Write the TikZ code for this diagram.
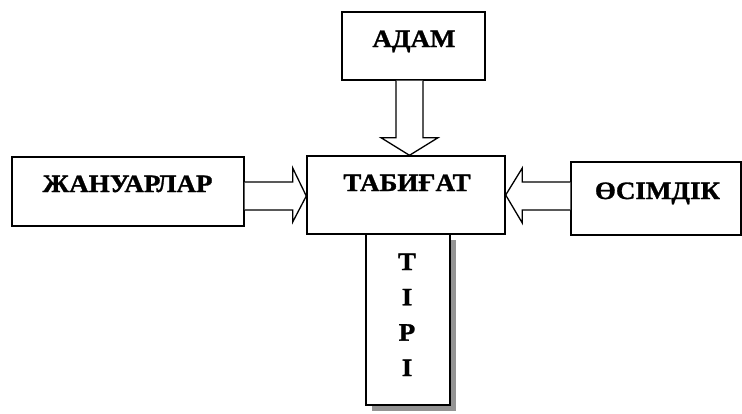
\documentclass[tikz,border=0pt]{standalone}
\usepackage{fontspec}
\setmainfont{Liberation Serif}
\newfontfamily\lblfont[FakeStretch=1.08,FakeBold=1.2]{Liberation Serif Bold}
\usetikzlibrary{calc}
\begin{document}
\begin{tikzpicture}[x=1pt,y=-1pt,
  box/.style={draw=black,line width=1.4pt,fill=white,inner sep=0pt},
  lbl/.style={font=\lblfont\fontsize{25}{25}\selectfont,inner sep=0pt,anchor=base},
  blockarrow/.style={draw=black,line width=1.3pt,fill=white,line join=miter}]
\useasboundingbox (0,0) rectangle (742,413);
% boxes
\node[box,minimum width=143pt,minimum height=68pt] (adam) at (413.5,46) {};
\node[lbl] (adamt) at (414,47) {АДАМ};
\node[box,minimum width=198pt,minimum height=78pt] (tab) at (406,195) {};
\node[lbl] (tabt) at (407,191) {ТАБИҒАТ};
\node[box,minimum width=232pt,minimum height=69pt] (zhan) at (128,191.5) {};
\node[lbl] (zhant) at (127.5,192) {ЖАНУАРЛАР};
\node[box,minimum width=170pt,minimum height=73pt] (osim) at (656,198.5) {};
\node[lbl] (osimt) at (657.5,199) {ӨСІМДІК};
% shadow + tiri
\fill[gray!85] (372,240) rectangle (456,411);
\node[box,minimum width=84pt,minimum height=171pt] (tiri) at (408,319.5) {};
\node[lbl] (t1) at (407,270) {Т};
\node[lbl] (t2) at (407,305.3) {І};
\node[lbl] (t3) at (407,340.6) {Р};
\node[lbl] (t4) at (407,376) {І};
% block arrows
\draw[blockarrow] ($(adam.south)+(-17.5,0)$) -- ($(adam.south)+(-17.5,57)$) -- ($(adam.south)+(-32.5,57)$)
  -- ($(adam.south |- tab.north)+(-4,0)$) -- ($(adam.south)+(24.5,57)$) -- ($(adam.south)+(9.5,57)$) -- ($(adam.south)+(9.5,0)$);
\draw[blockarrow] ($(zhan.east)+(0,-9.5)$) -- ($(zhan.east)+(48,-9.5)$) -- ($(zhan.east)+(48,-23.5)$)
  -- ($(tab.west)+(0,1)$) -- ($(zhan.east)+(48,30.5)$) -- ($(zhan.east)+(48,18.5)$) -- ($(zhan.east)+(0,18.5)$);
\draw[blockarrow] ($(osim.west)+(0,-16.5)$) -- ($(osim.west)+(-48,-16.5)$) -- ($(osim.west)+(-48,-30.5)$)
  -- (tab.east) -- ($(osim.west)+(-48,24.5)$) -- ($(osim.west)+(-48,11.5)$) -- ($(osim.west)+(0,11.5)$);
\end{tikzpicture}
\end{document}
